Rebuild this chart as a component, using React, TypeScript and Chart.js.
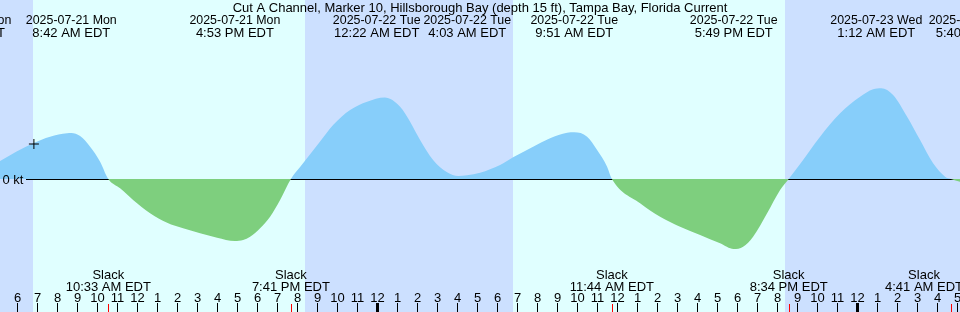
import { useEffect, useRef } from "react";
import { Chart, registerables } from "chart.js";

Chart.register(...registerables);

const TITLE =
  "Cut A Channel, Marker 10, Hillsborough Bay (depth 15 ft), Tampa Bay, Florida Current";
const UNIT_LABEL = "0 kt";

// Time axis: hours since 2025-07-21 00:00 EDT
const hours = [
  5.1, 5.14, 6.79, 7.64, 8.49, 8.7, 9.14, 9.64, 10.14, 10.55, 11.14, 11.79, 12.64,
  13.49, 14.29, 15.14, 15.99, 16.88, 17.29, 17.64, 18.14, 18.64, 19.14, 19.68, 20.14,
  21.14, 21.79, 22.64, 23.49, 24.37, 25.14, 25.64, 26.14, 26.79, 27.49, 28.05, 28.49,
  29.14, 30.14, 30.79, 31.79, 32.64, 33.49, 33.85, 34.49, 34.99, 35.49, 35.73, 37.14,
  38.14, 39.14, 40.14, 41.14, 41.82, 42.29, 42.79, 43.49, 44.14, 44.57, 45.14, 46.14,
  47.14, 48.14, 48.79, 49.2, 49.79, 50.49, 51.14, 51.79, 52.39, 52.68, 53.2,
];
// Current speed in knots (flood positive, ebb negative)
const speedKt = [
  0.175, 0.18, 0.357, 0.423, 0.457, 0.46, 0.43, 0.323, 0.173, 0, -0.093, -0.21, -0.343,
  -0.437, -0.493, -0.543, -0.587, -0.62, -0.61, -0.577, -0.493, -0.377, -0.21, 0, 0.12,
  0.375, 0.54, 0.69, 0.773, 0.815, 0.723, 0.573, 0.39, 0.19, 0.067, 0.03, 0.037,
  0.063, 0.14, 0.217, 0.323, 0.407, 0.463, 0.467, 0.423, 0.29, 0.123, 0, -0.243,
  -0.377, -0.477, -0.56, -0.643, -0.7, -0.677, -0.577, -0.343, -0.11, 0, 0.15, 0.423,
  0.657, 0.823, 0.897, 0.907, 0.84, 0.623, 0.39, 0.157, 0.023, 0, -0.03,
];

const sunriseHours = [6.8, 30.77];
const sunsetHours = [20.39, 44.39];

const extremaHours = [3.43, 8.7, 16.88, 24.37, 28.05, 33.85, 41.82, 49.2, 53.67];
const extremaDates = [
  "2025-07-21 Mon",
  "2025-07-21 Mon",
  "2025-07-21 Mon",
  "2025-07-22 Tue",
  "2025-07-22 Tue",
  "2025-07-22 Tue",
  "2025-07-22 Tue",
  "2025-07-23 Wed",
  "2025-07-23 Wed",
];
const extremaTimes = [
  "3:26 AM EDT",
  "8:42 AM EDT",
  "4:53 PM EDT",
  "12:22 AM EDT",
  "4:03 AM EDT",
  "9:51 AM EDT",
  "5:49 PM EDT",
  "1:12 AM EDT",
  "5:40 AM EDT",
];

const slackHours = [10.55, 19.68, 35.73, 44.57, 52.68];
const slackTimes = ["10:33 AM EDT", "7:41 PM EDT", "11:44 AM EDT", "8:34 PM EDT", "4:41 AM EDT"];
const SLACK_WORD = "Slack";

const markHours = [6.83];
const markSpeed = [0.35];

const firstTickHour = 6;
const lastTickHour = 53;

// ---- layout / style ----
const W = 960;
const H = 312;
const X_MIN = 5.135;
const X_MAX = 53.135;
const Y_MIN = -1.33;
const Y_MAX = 1.79;
const LABEL_NUDGE = [0, 0, 0, -8, 9, 0, 0, -5, 4];
const FONT = '13px "Liberation Sans", Arial, sans-serif';
const DATE_FONT = '12.4px "Liberation Sans", Arial, sans-serif';
const NIGHT = "#cce0ff";
const DAY = "#e0ffff";
const FLOOD = "#87cefa";
const EBB = "#7ecf7e";

const tidePlugin = {
  id: "tideDecor",
  beforeDraw(chart: any) {
    const { ctx } = chart;
    const xs = chart.scales.x;
    ctx.save();
    ctx.fillStyle = NIGHT;
    ctx.fillRect(0, 0, W, H);
    ctx.fillStyle = DAY;
    for (let i = 0; i < sunriseHours.length; i++) {
      const a = Math.round(xs.getPixelForValue(sunriseHours[i]));
      const b = Math.round(xs.getPixelForValue(sunsetHours[i]));
      ctx.fillRect(a, 0, b - a, H);
    }
    ctx.restore();
  },
  beforeDatasetsDraw(chart: any) {
    const { ctx } = chart;
    const y0 = Math.round(chart.scales.y.getPixelForValue(0));
    ctx.save();
    ctx.font = FONT;
    const start = 3 + ctx.measureText(UNIT_LABEL).width + 2;
    ctx.fillStyle = "#000";
    ctx.fillRect(Math.round(start), y0, W - Math.round(start), 1);
    ctx.restore();
  },
  afterDraw(chart: any) {
    const { ctx } = chart;
    const xs = chart.scales.x;
    const y0 = chart.scales.y.getPixelForValue(0);
    ctx.save();
    ctx.font = FONT;
    ctx.fillStyle = "#000";
    ctx.textBaseline = "alphabetic";

    // unit label
    ctx.textAlign = "left";
    ctx.fillText(UNIT_LABEL, 2.5, y0 + 4.5);

    // title
    ctx.textAlign = "center";
    ctx.fillText(TITLE, W / 2, 11.5);

    // extrema labels
    for (let i = 0; i < extremaHours.length; i++) {
      const cx = xs.getPixelForValue(extremaHours[i]) + LABEL_NUDGE[i];
      ctx.font = DATE_FONT;
      ctx.fillText(extremaDates[i], cx, 23.8);
      ctx.font = FONT;
      ctx.fillText(extremaTimes[i], cx, 36.8);
    }

    // slack labels
    for (let i = 0; i < slackHours.length; i++) {
      const px = xs.getPixelForValue(slackHours[i]);
      const wMax = Math.max(ctx.measureText(SLACK_WORD).width, ctx.measureText(slackTimes[i]).width);
      const cx = Math.min(px, W - wMax / 2 + 3);
      ctx.fillText(SLACK_WORD, cx, 278.5);
      ctx.fillText(slackTimes[i], cx, 290.5);
    }

    // hour ticks
    for (let h = firstTickHour; h <= lastTickHour; h++) {
      const px = Math.round(xs.getPixelForValue(h));
      ctx.fillStyle = "#000";
      if (h % 24 === 0) ctx.fillRect(px - 1, 303, 3, 9);
      else ctx.fillRect(px, 303, 1, 9);
      const lbl = String(h % 12 === 0 ? 12 : h % 12);
      ctx.fillText(lbl, px + 0.5, 302);
    }

    // slack ticks
    ctx.fillStyle = "#ff0000";
    for (let i = 0; i < slackHours.length; i++) {
      const px = Math.round(xs.getPixelForValue(slackHours[i]));
      ctx.fillRect(px, 304, 1, 8);
    }
    ctx.restore();
  },
};

export default function App() {
  const ref = useRef<HTMLCanvasElement | null>(null);
  useEffect(() => {
    document.body.style.margin = "0";
    if (!ref.current) return;
    const curve = hours.map((h, i) => ({ x: h, y: speedKt[i] }));
    const marks = markHours.map((h, i) => ({ x: h, y: markSpeed[i] }));
    const chart = new Chart(ref.current, {
      type: "line",
      data: {
        datasets: [
          {
            data: marks,
            showLine: false,
            pointStyle: "cross",
            pointRadius: 5,
            pointBorderColor: "#000",
            pointBorderWidth: 1,
            fill: false,
            order: 0,
          },
          {
            data: curve,
            borderWidth: 0,
            borderColor: "rgba(0,0,0,0)",
            pointRadius: 0,
            cubicInterpolationMode: "monotone",
            fill: { target: "origin", above: FLOOD, below: EBB },
            order: 1,
          },
        ],
      },
      options: {
        animation: false,
        responsive: false,
        devicePixelRatio: 1,
        layout: { padding: 0, autoPadding: false },
        plugins: { legend: { display: false }, tooltip: { enabled: false }, title: { display: false } },
        scales: {
          x: { type: "linear", min: X_MIN, max: X_MAX, display: false },
          y: { type: "linear", min: Y_MIN, max: Y_MAX, display: false },
        },
      },
      plugins: [tidePlugin],
    } as any);
    return () => chart.destroy();
  }, []);
  return (
    <div style={{ width: W, height: H, position: "relative" }}>
      <canvas ref={ref} width={W} height={H} style={{ display: "block" }} />
    </div>
  );
}
